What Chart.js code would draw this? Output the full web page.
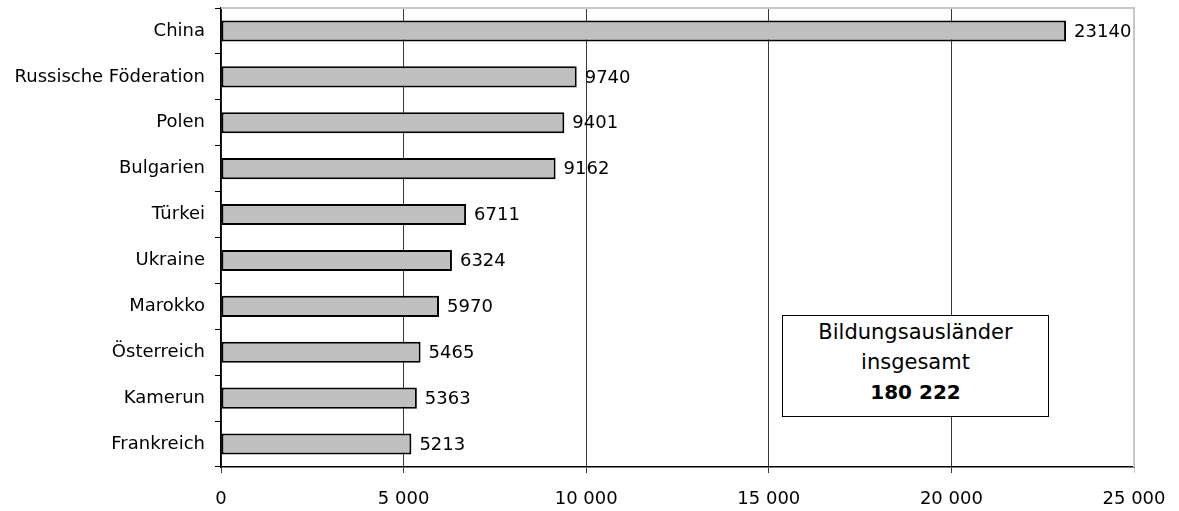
<!DOCTYPE html>
<html><head><meta charset="utf-8">
<script src="https://cdn.jsdelivr.net/npm/chart.js@4"></script>
<style>
html,body{margin:0;padding:0;background:#fff;}
#wrap{position:relative;width:1179px;height:511px;}
#box{position:absolute;left:782px;top:315px;width:267px;height:102px;border:1.5px solid #000;background:#fff;
 font-family:"DejaVu Sans",sans-serif;font-size:21px;line-height:30px;text-align:center;color:#000;box-sizing:border-box;padding-top:1px;}
#box b{font-weight:bold;font-size:20px;}
</style></head><body>
<div id="wrap"><canvas id="c" width="1179" height="511"></canvas>
<div id="box">Bildungsausländer<br>insgesamt<br><b>180 222</b></div></div>
<script>
const categories = ["China","Russische Föderation","Polen","Bulgarien","Türkei","Ukraine","Marokko","Österreich","Kamerun","Frankreich"];
const values = [23140,9740,9401,9162,6711,6324,5970,5465,5363,5213];
const xTicks = [0,5000,10000,15000,20000,25000];

const fmt = v => String(v).replace(/\B(?=(\d{3})+(?!\d))/g, " ");
const FONT = '"DejaVu Sans", sans-serif';

const labelPlugin = {
  id:'vals',
  afterDatasetsDraw(chart){
    const ctx = chart.ctx;
    const meta = chart.getDatasetMeta(0);
    ctx.save();
    ctx.font = '18px ' + FONT;
    ctx.fillStyle = '#000';
    ctx.textBaseline = 'middle';
    ctx.textAlign = 'left';
    meta.data.forEach((el,i)=>{
      ctx.fillText(String(values[i]), el.x + 8, el.y + 1);
    });
    ctx.restore();
  }
};
const framePlugin = {
  id:'frame',
  beforeDatasetsDraw(chart){
    const {ctx, chartArea:a} = chart;
    ctx.save();
    ctx.strokeStyle = '#c8c8c8';
    ctx.lineWidth = 2;
    ctx.beginPath();
    ctx.moveTo(a.left, a.top); ctx.lineTo(a.right, a.top); ctx.lineTo(a.right, a.bottom);
    ctx.stroke();
    ctx.restore();
  }
};

new Chart(document.getElementById('c'), {
  type:'bar',
  data:{labels:categories, datasets:[{data:values, backgroundColor:'#c0c0c0', borderColor:'#000', borderWidth:2, borderSkipped:false, barPercentage:0.46, categoryPercentage:1.0}]},
  options:{
    indexAxis:'y', responsive:false, animation:false, devicePixelRatio:1,
    layout:{padding:{top:8,right:45,left:0,bottom:0}},
    plugins:{legend:{display:false}, tooltip:{enabled:false}},
    scales:{
      x:{min:0,max:25000,
        afterBuildTicks(s){ s.ticks = xTicks.map(v=>({value:v})); },
        afterFit(s){ s.height = 44; s.paddingRight = 0; s.paddingLeft = 0; },
        ticks:{font:{family:FONT,size:18},color:'#000',padding:16,maxRotation:0,callback:v=>fmt(v)},
        grid:{color:(c)=> c.index===xTicks.length-1 ? '#c8c8c8' : '#3a3a3a', lineWidth:1, tickLength:6, drawTicks:true},
        border:{color:'#000',width:1.5}
      },
      y:{
        afterFit(s){ s.width = 221; s.paddingTop = 0; s.paddingBottom = 0; },
        ticks:{font:{family:FONT,size:18},color:'#000',padding:10},
        grid:{drawOnChartArea:false, offset:true, color:'#000', tickLength:6},
        border:{color:'#000',width:1.5}
      }
    }
  },
  plugins:[framePlugin,labelPlugin]
});
</script></body></html>
